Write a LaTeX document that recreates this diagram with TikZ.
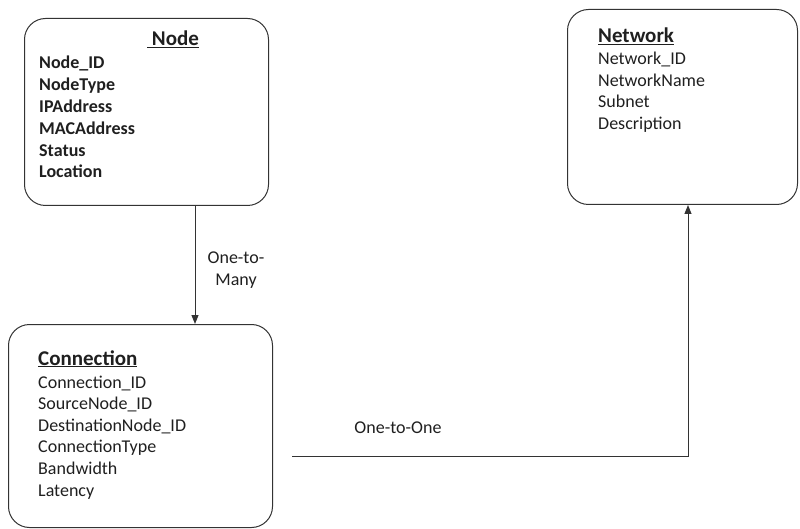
\documentclass[tikz,border=0pt]{standalone}
\usepackage{fontspec}
\setmainfont{Carlito}
\usetikzlibrary{arrows.meta}

\newcommand{\diagfont}{\fontsize{18}{21.5}\selectfont}
\newcommand{\headfont}{\fontsize{21}{24}\selectfont\bfseries}

\tikzset{
  entity/.style={draw=black!80, line width=1pt, rounded corners=21pt,
    anchor=north west, inner sep=0pt},
  label/.style={text=black!88, inner sep=0pt, anchor=base west, font=\diagfont},
  title/.style={label, font=\headfont},
  field/.style={label},
  keyfield/.style={label, font=\diagfont\bfseries},
  relation/.style={draw=black!80, line width=1pt,
    -{Triangle[length=9pt,width=7pt]}},
  rellabel/.style={text=black!88, inner sep=0pt, align=center, font=\diagfont},
}

\begin{document}
\begin{tikzpicture}[x=1pt,y=-1pt]
  \useasboundingbox (0,0) rectangle (800,529);

  % entity boxes
  \node[entity, minimum width=244pt, minimum height=187pt] (node) at (24,18) {};
  \node[entity, minimum width=230pt, minimum height=195pt] (net) at (567,9) {};
  \node[entity, minimum width=264pt, minimum height=203pt] (conn) at (8,324) {};

  % Node entity
  \node[title] (nodetitle) at (147,46) {\underline{\ Node}};
  \foreach \t [count=\i] in {Node\_ID, NodeType, IPAddress, MACAddress, Status, Location}
    \node[keyfield] (nodef\i) at (39, {69+21.8*(\i-1)}) {\t};

  % Network entity
  \node[title] (nettitle) at (598,43) {\underline{Network}};
  \foreach \t [count=\i] in {Network\_ID, NetworkName, Subnet, Description}
    \node[field] (netf\i) at (598, {64.5+21.6*(\i-1)}) {\t};

  % Connection entity
  \node[title] (conntitle) at (38,365) {\underline{Connection}};
  \foreach \t [count=\i] in {Connection\_ID, SourceNode\_ID, DestinationNode\_ID, ConnectionType, Bandwidth, Latency}
    \node[field] (connf\i) at (38, {388+21.6*(\i-1)}) {\t};

  % relationships
  \draw[relation] ([xshift=171pt]node.south west) -- ([xshift=187pt]conn.north west);
  \node[rellabel] (l1) at (236,270) {One-to-\\Many};

  \coordinate (connout) at (292,456);
  \draw[relation] (connout) -| ([xshift=121pt]net.south west);
  \node[rellabel] (l2) at (398,428) {One-to-One};
\end{tikzpicture}
\end{document}
